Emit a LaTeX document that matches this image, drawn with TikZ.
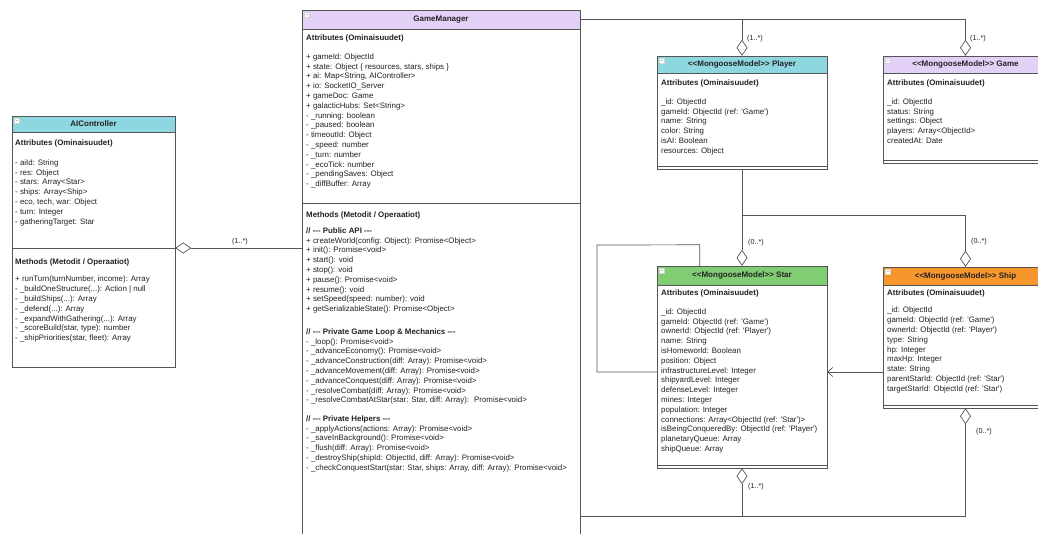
\documentclass[tikz,border=0pt]{standalone}
\usepackage{fontspec}
\newfontfamily\umlfont{Liberation Sans}
\usetikzlibrary{arrows.meta,calc,fit}
\definecolor{hteal}{HTML}{8FD7E0}
\definecolor{hlav}{HTML}{E3D0F6}
\definecolor{hgreen}{HTML}{80CD73}
\definecolor{horange}{HTML}{F8962E}
\definecolor{lc}{HTML}{555555}
\definecolor{tc}{HTML}{222222}
\newcommand\qq[1]{\textquotesingle #1\textquotesingle}
% \umlbox{name}{x1}{y1}{x2}{y2}{header bottom}{colour}{title}
\newcommand\umlbox[8]{%
  \fill[#7] (#2,#3) rectangle (#4,#6);
  \draw[frame] (#2,#3) rectangle (#4,#5);
  \draw[frame] (#2,#6) -- (#4,#6);
  \node[fit={(#2,#3) (#4,#5)}, inner sep=0pt] (#1) {};
  \node[titletxt] (#1-title) at ({(#2+#4)/2},{(#3+#6)/2}) {#8};
  \node[iconbox] (#1-icon) at ({#2+5},{#3+4.5}) {};
}
% \txtblock{name}{x}{y centre of first line}{lines}
\newcommand\txtblock[4]{%
  \node[txt] (#1) at (#2,{#3-4.7}) {\strut #4};
}
\newcommand\btxtblock[4]{%
  \node[txt,font=\umlfont\bfseries\fontsize{7.9}{9.8}\selectfont] (#1) at (#2,{#3-4.7}) {\strut #4};
}
\begin{document}
\begin{tikzpicture}[x=1pt,y=-1pt,
  frame/.style={draw=lc,line width=0.7pt},
  conn/.style={draw=lc,line width=0.7pt},
  agg/.style={conn,-{Diamond[length=16pt,width=11pt,fill=white,line width=0.7pt]}},
  arr/.style={conn,-{Straight Barb[length=5pt,width=9pt,line width=0.7pt]}},
  txt/.style={anchor=north west,inner sep=0pt,align=left,text=tc,
    font=\umlfont\fontsize{7.9}{9.8}\selectfont},
  titletxt/.style={inner sep=0pt,text=tc,font=\umlfont\bfseries\fontsize{8}{9}\selectfont},
  multlbl/.style={anchor=west,inner sep=0pt,text=tc,font=\umlfont\fontsize{7.2}{8}\selectfont},
  iconbox/.style={draw=white!75!lc,fill=white!60,minimum width=5pt,minimum height=4.5pt,inner sep=0pt,line width=0.4pt,
    path picture={\draw[white!60!lc,line width=0.5pt] ([xshift=1.2pt]path picture bounding box.west) -- ([xshift=-1.2pt]path picture bounding box.east);}}
]
\useasboundingbox (0,0) rectangle (1038,533);
\fill[white] (0,0) rectangle (1038,533);

% ---------- AIController ----------
\umlbox{ai}{12}{116}{175}{367}{132}{hteal}{AIController}
\draw[frame] (12,248) -- (175,248);
\btxtblock{ai-attrT}{15}{143}{Attributes (Ominaisuudet)}
\txtblock{ai-attr}{15}{163}{- aiId: String\\- res: Object\\- stars: Array<Star>\\- ships: Array<Ship>\\- eco, tech, war: Object\\- turn: Integer\\- gatheringTarget: Star}
\btxtblock{ai-methT}{15}{262}{Methods (Metodit / Operaatiot)}
\txtblock{ai-meth}{15}{279.5}{+ runTurn(turnNumber, income): Array\\- \_buildOneStructure(...): Action | null\\- \_buildShips(...): Array\\- \_defend(...): Array\\- \_expandWithGathering(...): Array\\- \_scoreBuild(star, type): number\\- \_shipPriorities(star, fleet): Array}

% ---------- GameManager ----------
\umlbox{gm}{302}{10}{580}{545}{29}{hlav}{GameManager}
\draw[frame] (302,203) -- (580,203);
\btxtblock{gm-attrT}{306}{38}{Attributes (Ominaisuudet)}
\txtblock{gm-attr}{306}{57}{+ gameId: ObjectId\\+ state: Object \{ resources, stars, ships \}\\+ ai: Map<String, AIController>\\+ io: SocketIO\_Server\\+ gameDoc: Game\\+ galacticHubs: Set<String>\\- \_running: boolean\\- \_paused: boolean\\- timeoutId: Object\\- \_speed: number\\- \_turn: number\\- \_ecoTick: number\\- \_pendingSaves: Object\\- \_diffBuffer: Array}
\btxtblock{gm-methT}{306}{215}{Methods (Metodit / Operaatiot)}
\btxtblock{gm-pubT}{306}{231}{// --- Public API ---}
\txtblock{gm-pub}{306}{240.8}{+ createWorld(config: Object): Promise<Object>\\+ init(): Promise<void>\\+ start(): void\\+ stop(): void\\+ pause(): Promise<void>\\+ resume(): void\\+ setSpeed(speed: number): void\\+ getSerializableState(): Promise<Object>}
\btxtblock{gm-privT}{306}{332}{// --- Private Game Loop \& Mechanics ---}
\txtblock{gm-priv}{306}{341.8}{- \_loop(): Promise<void>\\- \_advanceEconomy(): Promise<void>\\- \_advanceConstruction(diff: Array): Promise<void>\\- \_advanceMovement(diff: Array): Promise<void>\\- \_advanceConquest(diff: Array): Promise<void>\\- \_resolveCombat(diff: Array): Promise<void>\\- \_resolveCombatAtStar(star: Star, diff: Array): \ Promise<void>}
\btxtblock{gm-helpT}{306}{419}{// --- Private Helpers ---}
\txtblock{gm-help}{306}{428.8}{- \_applyActions(actions: Array): Promise<void>\\- \_saveInBackground(): Promise<void>\\- \_flush(diff: Array): Promise<void>\\- \_destroyShip(shipId: ObjectId, diff: Array): Promise<void>\\- \_checkConquestStart(star: Star, ships: Array, diff: Array): Promise<void>}

% ---------- Player ----------
\umlbox{player}{657}{56}{827}{169}{73}{hteal}{<{}<MongooseModel>{}> Player}
\draw[frame] (657,166) -- (827,166);
\btxtblock{pl-attrT}{661}{83}{Attributes (Ominaisuudet)}
\txtblock{pl-attr}{661}{102}{\_id: ObjectId\\gameId: ObjectId (ref: \qq{Game})\\name: String\\color: String\\isAI: Boolean\\resources: Object}

% ---------- Game ----------
\umlbox{game}{883}{56}{1048}{163}{73}{hlav}{<{}<MongooseModel>{}> Game}
\draw[frame] (883,160) -- (1048,160);
\btxtblock{ga-attrT}{887}{83}{Attributes (Ominaisuudet)}
\txtblock{ga-attr}{887}{102}{\_id: ObjectId\\status: String\\settings: Object\\players: Array<ObjectId>\\createdAt: Date}

% ---------- Star ----------
\umlbox{star}{657}{266}{827}{468}{285}{hgreen}{<{}<MongooseModel>{}> Star}
\draw[frame] (657,465) -- (827,465);
\btxtblock{st-attrT}{661}{293}{Attributes (Ominaisuudet)}
\txtblock{st-attr}{661}{312}{\_id: ObjectId\\gameId: ObjectId (ref: \qq{Game})\\ownerId: ObjectId (ref: \qq{Player})\\name: String\\isHomeworld: Boolean\\position: Object\\infrastructureLevel: Integer\\shipyardLevel: Integer\\defenseLevel: Integer\\mines: Integer\\population: Integer\\connections: Array<ObjectId (ref: \qq{Star})>\\isBeingConqueredBy: ObjectId (ref: \qq{Player})\\planetaryQueue: Array\\shipQueue: Array}

% ---------- Ship ----------
\umlbox{ship}{883}{267}{1048}{408}{285}{horange}{<{}<MongooseModel>{}> Ship}
\draw[frame] (883,405) -- (1048,405);
\btxtblock{sh-attrT}{887}{293}{Attributes (Ominaisuudet)}
\txtblock{sh-attr}{887}{310.5}{\_id: ObjectId\\gameId: ObjectId (ref: \qq{Game})\\ownerId: ObjectId (ref: \qq{Player})\\type: String\\hp: Integer\\maxHp: Integer\\state: String\\parentStarId: ObjectId (ref: \qq{Star})\\targetStarId: ObjectId (ref: \qq{Star})}

% ---------- connectors ----------
\coordinate (aiY) at (0,248);
\draw[agg] (gm.west |- aiY) -- (ai.east |- aiY);
\node[multlbl,anchor=center] (m-ai) at (240,242) {(1..*)};

\draw[conn] (gm.east |- gm-title) -- (game.north |- gm-title);
\draw[agg] (player.north |- gm-title) -- (player.north);
\draw[agg] (game.north |- gm-title) -- (game.north);
\node[multlbl] (m-pl) at (747,39) {(1..*)};
\node[multlbl] (m-ga) at (970,39) {(1..*)};

\coordinate (jPS) at (0,215);
\draw[agg] (player.south) -- (star.north);
\draw[agg] (player.south |- jPS) -| (ship.north);
\node[multlbl] (m-st) at (748,243) {(0..*)};
\node[multlbl] (m-sh) at (971,242) {(0..*)};

% self association of Star
\coordinate (loopA) at ($(star.north west)+(43,-21)$);
\coordinate (loopB) at (597,245);
\coordinate (loopC) at (597,372);
\draw[conn] ($(star.north west)+(43,0)$) -- (loopA) -- (loopB) -- (loopC) -- (star.west |- loopC);

% Ship -> Star
\draw[arr] (ship.west |- loopC) -- (star.east |- loopC);

% bottom bus
\coordinate (bot) at (0,516);
\draw[agg] (star.south |- bot) -- (star.south);
\draw[agg] (ship.south |- bot) -- (ship.south);
\draw[conn] (gm.east |- bot) -- (ship.south |- bot);
\node[multlbl] (m-st2) at (748,487) {(1..*)};
\node[multlbl] (m-sh2) at (976,432) {(0..*)};
\end{tikzpicture}
\end{document}
